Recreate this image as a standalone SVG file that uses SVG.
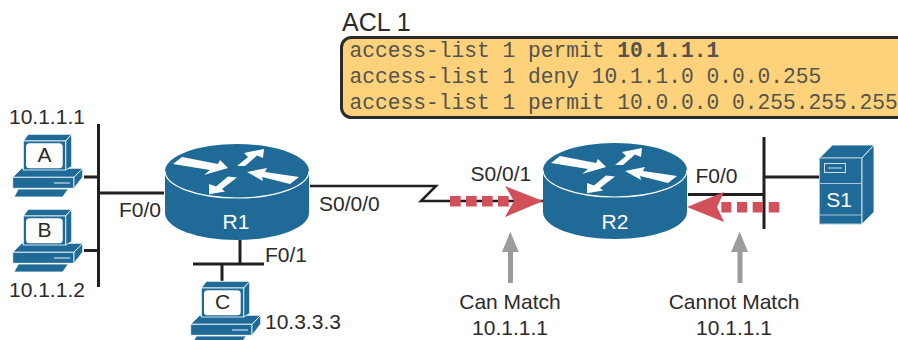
<svg xmlns="http://www.w3.org/2000/svg" width="898" height="340" viewBox="0 0 898 340">
<style>
text{font-family:"Liberation Sans",Arial,sans-serif;fill:#2b2a2b;font-size:21px}
.m{font-family:"Liberation Mono","Courier New",monospace;font-size:21.25px;fill:#55524e}
.c{text-anchor:middle}
.b{fill:#1f6a97}
.o{fill:#1f6a97;stroke:#fff;stroke-width:.8}
.l{fill:none;stroke:#231f20;stroke-width:3}
.red{fill:#d1505a}
.gr{fill:#9b9c9e}
.t{fill:#fff}
</style>
<defs>
<g id="router">
<path class="b" d="M-72 0V42C-72 57-40 69 0 69S72 57 72 42V0Z"/>
<ellipse class="b" cx="0" cy="0" rx="72" ry="27"/>
<path d="M-72 0C-72 15-40 27 0 27S72 15 72 0" fill="none" stroke="#fff" stroke-width="1.200"/>
<path class="t" d="M-64-7-55-14-19-7-17-11-9-3-33 4-27-1Z"/>
<path class="t" d="M0-5 11-14 7-18 27-22 26-13 20-15.500 8-5Z"/>
<path class="t" d="M10 1 30-3 28 1 62 6 53 13 25 6 26 10Z"/>
<path class="t" d="M-28 23.300-28 13-21 15.500-9 5.500 0 6.500-15 18-12 20.500Z"/>
</g>
<g id="pc">
<path class="o" d="M12.700 52.300 21.700 43.300H82.700L74 52.300Z"/>
<path class="o" d="M12.700 52.300H74V63.300H12.700Z"/>
<path class="o" d="M74 52.300 82.700 43.300V52L74 63.300Z"/>
<path d="M54 58H70" stroke="#a9c6d8" stroke-width="1.500"/>
<path class="o" d="M18.300 64H68.300L62.700 72H14Z"/>
<path class="o" d="M23.300 16 28.300 9.300H71.700L65.700 16Z"/>
<path class="o" d="M65.700 16 71.700 9.300V41.500L65.700 45Z"/>
<rect class="o" x="23.300" y="16" width="42.400" height="29"/>
<rect x="26" y="18.300" width="36.700" height="25" rx="3.500" fill="#fff"/>
</g>
</defs>

<g id="connectors">
<path class="l" d="M98.500 124V287M84 177H98M84 250.500H98M98 193H164"/>
<path class="l" d="M240 240V264M193 264H264M222 264V281"/>
<path class="l" d="M310 186H436L421 201H543" style="stroke-width:2.500"/>
<path class="l" d="M764 137V229M764 177H819M688 194.500H764"/>
<path class="red" d="M450 196h10.700v10.500H450zM466 196h10.700v10.500H466zM482 196h10.700v10.500H482zM498 196h10.700v10.500H498z"/>
<path class="red" d="M505 186 543 201 505 217 514 201Z"/>
<path class="red" d="M721.300 202h10v10.500h-10zM737 202h10v10.500h-10zM752.700 202h10v10.500h-10zM768.700 202h10.600v10.500h-10.600z"/>
<path class="red" d="M687 207 724 192 717 207 724 222Z"/>
<path class="gr" d="M510.300 231.700 518.700 252H513V283H508V252H502Z"/>
<path class="gr" d="M739.700 231.700 748 252H742.500V283H737.500V252H731Z"/>
</g>

<g id="acl">
<text x="342" y="31" style="font-size:25px">ACL 1</text>
<rect x="341.500" y="37.500" width="600" height="80" rx="10" fill="#fdd27a" stroke="#2b2a2b" stroke-width="3"/>
<text class="m" x="349.500" y="57">access-list 1 permit <tspan font-weight="700">10.1.1.1</tspan></text>
<text class="m" x="349.500" y="83">access-list 1 deny 10.1.1.0 0.0.0.255</text>
<text class="m" x="349.500" y="108.500">access-list 1 permit 10.0.0.0 0.255.255.255</text>
</g>

<g id="pcA"><use href="#pc" y="125"/><text class="c" x="44.500" y="162">A</text><text x="9" y="124">10.1.1.1</text></g>
<g id="pcB"><use href="#pc" y="200"/><text class="c" x="44.500" y="237">B</text><text x="9" y="297">10.1.1.2</text></g>
<g id="pcC"><use href="#pc" x="178" y="272"/><text class="c" x="222.500" y="309">C</text><text x="265" y="329">10.3.3.3</text></g>
<g id="R1"><use href="#router" x="237" y="171"/><text class="c" x="236" y="229" style="fill:#fff">R1</text></g>
<g id="R2"><use href="#router" x="615" y="170"/><text class="c" x="615" y="228.500" style="fill:#fff">R2</text></g>
<g id="S1">
<path class="o" d="M819.500 158 832.500 145H874L862 158Z"/>
<path class="o" d="M862 158 874 145V212L862 224Z"/>
<rect x="819.500" y="158" width="42" height="66" class="b" stroke="#a9c6d8" stroke-width="1"/>
<path d="M819.500 183.500H861.500M819.500 215H861.500" stroke="#a9c6d8" stroke-width="1.200"/>
<rect x="824.500" y="163.500" width="21" height="9" fill="none" stroke="#cfe0ea"/>
<path d="M828 168H842" stroke="#cfe0ea"/>
<text class="c" x="839" y="207" style="fill:#fff">S1</text>
</g>
<g id="labels">
<text x="119" y="216.500">F0/0</text>
<text x="265" y="261.500">F0/1</text>
<text x="319" y="211">S0/0/0</text>
<text x="470.500" y="181">S0/0/1</text>
<text x="695.500" y="183">F0/0</text>
<text class="c" x="510" y="309">Can Match</text>
<text class="c" x="510" y="335">10.1.1.1</text>
<text class="c" x="734" y="309">Cannot Match</text>
<text class="c" x="734" y="335">10.1.1.1</text>
</g>
</svg>
